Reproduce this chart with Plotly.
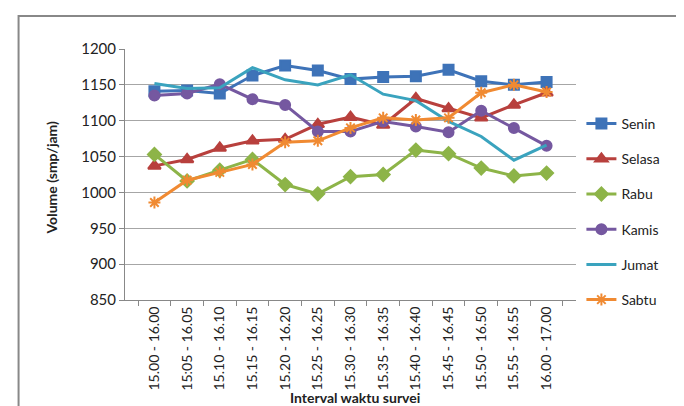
import plotly.graph_objects as go

categories = ["15.00 - 16.00", "15:05 - 16.05", "15.10 - 16.10", "15.15 - 16.15", "15.20 - 16.20",
              "15.25 - 16.25", "15.30 - 16.30", "15.35 - 16.35", "15.40 - 16.40", "15.45 - 16.45",
              "15.50 - 16.50", "15.55 - 16.55", "16.00 - 17.00"]

senin = [1141, 1142, 1138, 1163, 1177, 1170, 1158, 1161, 1162, 1171, 1155, 1150, 1154]
selasa = [1037, 1046, 1062, 1072, 1074, 1095, 1105, 1094, 1131, 1117, 1104, 1122, 1139]
rabu = [1053, 1016, 1031, 1046, 1011, 998, 1022, 1025, 1059, 1054, 1034, 1023, 1027]
kamis = [1135, 1138, 1151, 1130, 1122, 1085, 1085, 1099, 1092, 1084, 1114, 1090, 1065]
jumat = [1152, 1145, 1146, 1174, 1157, 1150, 1164, 1137, 1128, 1099, 1078, 1045, 1066]
sabtu = [986, 1017, 1028, 1039, 1070, 1072, 1090, 1104, 1101, 1104, 1139, 1150, 1140]

series = [
    ("Senin", senin, "#3E73B8", "square", 10),
    ("Selasa", selasa, "#B8403D", "triangle-up", 11),
    ("Rabu", rabu, "#8DB448", "diamond", 10),
    ("Kamis", kamis, "#7558A0", "circle", 10),
    ("Jumat", jumat, "#3AA3BE", None, 0),
    ("Sabtu", sabtu, "#F08A32", "asterisk-open", 10),
]

fig = go.Figure()
for name, vals, color, sym, size in series:
    if sym is None:
        fig.add_trace(go.Scatter(x=categories, y=vals, name=name, mode="lines",
                                 legendgroup=name,
                                 line=dict(color=color, width=3)))
    else:
        fig.add_trace(go.Scatter(x=categories, y=vals, name=name, mode="lines+markers",
                                 legendgroup=name,
                                 line=dict(color=color, width=3),
                                 marker=dict(symbol=sym, size=size, color=color,
                                             line=dict(color=color, width=2))))

fig.update_layout(
    width=684, height=406,
    margin=dict(l=117, r=116, t=41, b=114),
    paper_bgcolor="white", plot_bgcolor="white",
    font=dict(family="Lato, Open Sans, sans-serif", size=14, color="#222"),
    showlegend=True,
    legend=dict(x=1.012, y=0.765, xanchor="left", yanchor="top",
                font=dict(size=14, color="#222"), tracegroupgap=14,
                bgcolor="rgba(0,0,0,0)"),
    xaxis=dict(type="category", tickson="boundaries", ticks="outside", ticklen=5,
               tickcolor="#888", showline=True, linecolor="#888", linewidth=1,
               showgrid=False, tickangle=-90, tickfont=dict(size=14, color="#222")),
    yaxis=dict(range=[850, 1200], dtick=50, ticks="outside", ticklen=5, tickcolor="#888",
               showline=True, linecolor="#888", linewidth=1,
               showgrid=True, gridcolor="#A6A6A6", gridwidth=1,
               tickfont=dict(size=15, color="#222"), zeroline=False),
    annotations=[
        dict(text="<b>Interval waktu survei</b>", xref="paper", yref="paper",
             x=0.51, y=-0.39, xanchor="center", yanchor="middle", showarrow=False,
             font=dict(size=14, color="#222")),
        dict(text="<b>Volume (smp/jam)</b>", xref="paper", yref="paper",
             x=-0.163, y=0.49, xanchor="center", yanchor="middle", showarrow=False,
             textangle=-90, font=dict(size=14, color="#222")),
    ],
    shapes=[dict(type="rect", xref="paper", yref="paper",
                 x0=-0.236, x1=1.35, y0=-0.6, y1=1.131,
                 line=dict(color="#888", width=2), fillcolor="rgba(0,0,0,0)")],
)

fig.write_html("out.html")
